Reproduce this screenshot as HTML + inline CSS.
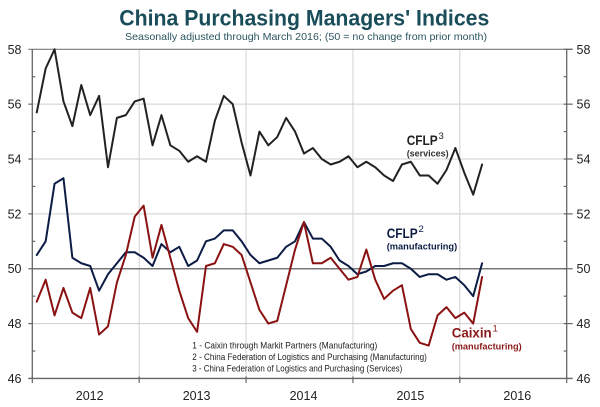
<!DOCTYPE html>
<html>
<head>
<meta charset="utf-8">
<style>
html,body{margin:0;padding:0;background:#fff;}
svg{display:block;font-family:"Liberation Sans",Arial,sans-serif;}
</style>
</head>
<body>
<svg width="600" height="407" viewBox="0 0 600 407" xmlns="http://www.w3.org/2000/svg">
<rect x="0" y="0" width="600" height="407" fill="#fff"/>

<!-- Title -->
<text x="119.3" y="25.7" font-size="22" font-weight="bold" fill="#1a4d5a" textLength="370" lengthAdjust="spacingAndGlyphs">China Purchasing Managers' Indices</text>
<text x="125" y="40" font-size="10.5" fill="#2d5560" textLength="362" lengthAdjust="spacingAndGlyphs">Seasonally adjusted through March 2016; (50 = no change from prior month)</text>

<!-- vertical gridlines -->
<g stroke="#d2d2d2" stroke-width="1">
<line x1="139.18" y1="49.3" x2="139.18" y2="378.46"/>
<line x1="246.06" y1="49.3" x2="246.06" y2="378.46"/>
<line x1="352.94" y1="49.3" x2="352.94" y2="378.46"/>
<line x1="459.82" y1="49.3" x2="459.82" y2="378.46"/>
</g>
<!-- horizontal gridlines -->
<g stroke="#cfcfcf" stroke-width="1">
<line x1="32.3" y1="104.16" x2="566.7" y2="104.16"/>
<line x1="32.3" y1="159.02" x2="566.7" y2="159.02"/>
<line x1="32.3" y1="213.88" x2="566.7" y2="213.88"/>
<line x1="32.3" y1="323.6" x2="566.7" y2="323.6"/>
</g>
<line x1="28.3" y1="49.3" x2="572.7" y2="49.3" stroke="#7a7a7a" stroke-width="1.2"/>
<line x1="32.3" y1="268.74" x2="566.7" y2="268.74" stroke="#777" stroke-width="1.4"/>

<!-- axes -->
<g stroke="#666" stroke-width="1.3">
<line x1="32.3" y1="49.3" x2="32.3" y2="378.46"/>
<line x1="566.7" y1="49.3" x2="566.7" y2="378.46"/>
<line x1="28.3" y1="378.46" x2="572.7" y2="378.46"/>
</g>
<g stroke="#666" stroke-width="1.2">
<line x1="28.3" y1="104.16" x2="32.3" y2="104.16"/>
<line x1="28.3" y1="159.02" x2="32.3" y2="159.02"/>
<line x1="28.3" y1="213.88" x2="32.3" y2="213.88"/>
<line x1="28.3" y1="268.74" x2="32.3" y2="268.74"/>
<line x1="28.3" y1="323.6" x2="32.3" y2="323.6"/>
<line x1="32.3" y1="76.73" x2="35.3" y2="76.73"/>
<line x1="32.3" y1="131.59" x2="35.3" y2="131.59"/>
<line x1="32.3" y1="186.45" x2="35.3" y2="186.45"/>
<line x1="32.3" y1="241.31" x2="35.3" y2="241.31"/>
<line x1="32.3" y1="296.17" x2="35.3" y2="296.17"/>
<line x1="32.3" y1="351.03" x2="35.3" y2="351.03"/>
<line x1="563.7" y1="49.3" x2="572.7" y2="49.3"/>
<line x1="563.7" y1="104.16" x2="572.7" y2="104.16"/>
<line x1="563.7" y1="159.02" x2="572.7" y2="159.02"/>
<line x1="563.7" y1="213.88" x2="572.7" y2="213.88"/>
<line x1="563.7" y1="268.74" x2="572.7" y2="268.74"/>
<line x1="563.7" y1="323.6" x2="572.7" y2="323.6"/>
<line x1="563.7" y1="76.73" x2="566.7" y2="76.73"/>
<line x1="563.7" y1="131.59" x2="566.7" y2="131.59"/>
<line x1="563.7" y1="186.45" x2="566.7" y2="186.45"/>
<line x1="563.7" y1="241.31" x2="566.7" y2="241.31"/>
<line x1="563.7" y1="296.17" x2="566.7" y2="296.17"/>
<line x1="563.7" y1="351.03" x2="566.7" y2="351.03"/>
<line x1="139.18" y1="376.5" x2="139.18" y2="383"/>
<line x1="246.06" y1="376.5" x2="246.06" y2="383"/>
<line x1="352.94" y1="376.5" x2="352.94" y2="383"/>
<line x1="459.82" y1="376.5" x2="459.82" y2="383"/>
<line x1="32.3" y1="376.5" x2="32.3" y2="383"/>
<line x1="566.7" y1="376.5" x2="566.7" y2="383"/>
</g>

<!-- y labels -->
<g font-size="12.5" fill="#222" text-anchor="end">
<text x="21.5" y="53.8">58</text>
<text x="21.5" y="108.7">56</text>
<text x="21.5" y="163.5">54</text>
<text x="21.5" y="218.4">52</text>
<text x="21.5" y="273.2">50</text>
<text x="21.5" y="328.1">48</text>
<text x="21.5" y="383">46</text>
</g>
<g font-size="12.5" fill="#222">
<text x="576.5" y="53.8">58</text>
<text x="576.5" y="108.7">56</text>
<text x="576.5" y="163.5">54</text>
<text x="576.5" y="218.4">52</text>
<text x="576.5" y="273.2">50</text>
<text x="576.5" y="328.1">48</text>
<text x="576.5" y="383">46</text>
</g>

<!-- x labels -->
<g font-size="12.5" fill="#222" text-anchor="middle">
<text x="89.7" y="400">2012</text>
<text x="196.6" y="400">2013</text>
<text x="303.5" y="400">2014</text>
<text x="410.4" y="400">2015</text>
<text x="517.3" y="400">2016</text>
</g>

<!-- series -->
<g transform="translate(36.75,1640.24) scale(8.907,-27.43)" fill="none" stroke-linejoin="round" stroke-linecap="round">
<polyline vector-effect="non-scaling-stroke" stroke="#222" stroke-width="2" points="0,55.7 1,57.3 2,58.0 3,56.1 4,55.2 5,56.7 6,55.6 7,56.3 8,53.7 9,55.5 10,55.6 11,56.1 12,56.2 13,54.5 14,55.6 15,54.5 16,54.3 17,53.9 18,54.1 19,53.9 20,55.4 21,56.3 22,56.0 23,54.6 24,53.4 25,55.0 26,54.5 27,54.8 28,55.5 29,55.0 30,54.2 31,54.4 32,54.0 33,53.8 34,53.9 35,54.1 36,53.7 37,53.9 38,53.7 39,53.4 40,53.2 41,53.8 42,53.9 43,53.4 44,53.4 45,53.1 46,53.6 47,54.4 48,53.5 49,52.7 50,53.8"/>
<polyline vector-effect="non-scaling-stroke" stroke="#0c1c45" stroke-width="2" points="0,50.5 1,51.0 2,53.1 3,53.3 4,50.4 5,50.2 6,50.1 7,49.2 8,49.8 9,50.2 10,50.6 11,50.6 12,50.4 13,50.1 14,50.9 15,50.6 16,50.8 17,50.1 18,50.3 19,51.0 20,51.1 21,51.4 22,51.4 23,51.0 24,50.5 25,50.2 26,50.3 27,50.4 28,50.8 29,51.0 30,51.7 31,51.1 32,51.1 33,50.8 34,50.3 35,50.1 36,49.8 37,49.9 38,50.1 39,50.1 40,50.2 41,50.2 42,50.0 43,49.7 44,49.8 45,49.8 46,49.6 47,49.7 48,49.4 49,49.0 50,50.2"/>
<polyline vector-effect="non-scaling-stroke" stroke="#8a1212" stroke-width="2" points="0,48.8 1,49.6 2,48.3 3,49.3 4,48.4 5,48.2 6,49.3 7,47.6 8,47.9 9,49.5 10,50.5 11,51.9 12,52.3 13,50.4 14,51.6 15,50.4 16,49.2 17,48.2 18,47.7 19,50.1 20,50.2 21,50.9 22,50.8 23,50.5 24,49.5 25,48.5 26,48.0 27,48.1 28,49.4 29,50.7 30,51.7 31,50.2 32,50.2 33,50.4 34,50.0 35,49.6 36,49.7 37,50.7 38,49.6 39,48.9 40,49.2 41,49.4 42,47.8 43,47.3 44,47.2 45,48.3 46,48.6 47,48.2 48,48.4 49,48.0 50,49.7"/>
</g>

<!-- series labels -->
<g font-weight="bold">
<text x="406.7" y="145" font-size="13.5" fill="#222" textLength="31" lengthAdjust="spacingAndGlyphs">CFLP</text>
<text x="406.7" y="156.5" font-size="9.5" fill="#333" textLength="42" lengthAdjust="spacingAndGlyphs">(services)</text>
<text x="386.7" y="238" font-size="13.5" fill="#0c1c45" textLength="31" lengthAdjust="spacingAndGlyphs">CFLP</text>
<text x="386.7" y="249.5" font-size="9.5" fill="#0c1c45" textLength="70.5" lengthAdjust="spacingAndGlyphs">(manufacturing)</text>
<text x="451.7" y="337.7" font-size="13.5" fill="#8a1a1a" textLength="40" lengthAdjust="spacingAndGlyphs">Caixin</text>
<text x="451.7" y="349.3" font-size="9.5" fill="#8a1a1a" textLength="70" lengthAdjust="spacingAndGlyphs">(manufacturing)</text>
</g>
<text x="438.5" y="139" font-size="9.5" fill="#222">3</text>
<text x="418.5" y="232" font-size="9.5" fill="#0c1c45">2</text>
<text x="492.5" y="331.7" font-size="9.5" fill="#8a1a1a">1</text>

<!-- footnotes -->
<g font-size="9.5" fill="#222">
<text x="192.3" y="348.5" textLength="185" lengthAdjust="spacingAndGlyphs">1 - Caixin through Markit Partners (Manufacturing)</text>
<text x="192.3" y="360" textLength="234.5" lengthAdjust="spacingAndGlyphs">2 - China Federation of Logistics and Purchasing (Manufacturing)</text>
<text x="192.3" y="371.3" textLength="210" lengthAdjust="spacingAndGlyphs">3 - China Federation of Logistics and Purchasing (Services)</text>
</g>
</svg>
</body>
</html>
